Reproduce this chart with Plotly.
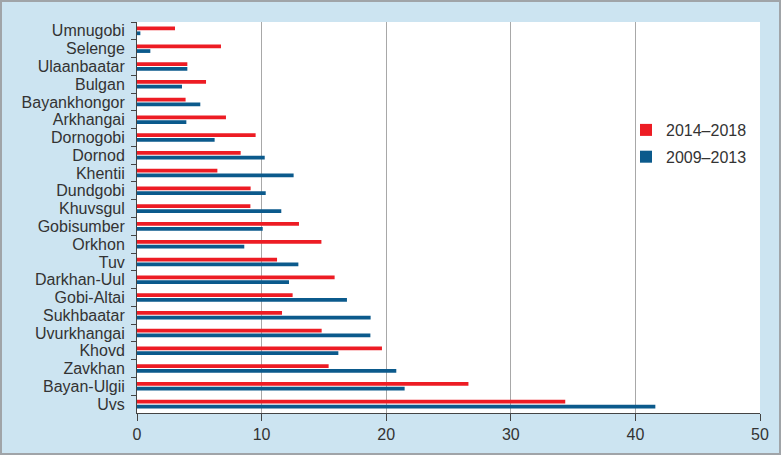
import plotly.graph_objects as go

regions = ["Umnugobi", "Selenge", "Ulaanbaatar", "Bulgan", "Bayankhongor", "Arkhangai",
           "Dornogobi", "Dornod", "Khentii", "Dundgobi", "Khuvsgul", "Gobisumber",
           "Orkhon", "Tuv", "Darkhan-Uul", "Gobi-Altai", "Sukhbaatar", "Uvurkhangai",
           "Khovd", "Zavkhan", "Bayan-Ulgii", "Uvs"]
v_2014_2018 = [3.05, 6.74, 4.04, 5.54, 3.9, 7.14, 9.52, 8.32, 6.45, 9.12, 9.1, 13.0,
               14.8, 11.24, 15.86, 12.49, 11.64, 14.82, 19.66, 15.38, 26.6, 34.37]
v_2009_2013 = [0.27, 1.07, 4.04, 3.61, 5.08, 3.96, 6.23, 10.25, 12.57, 10.33, 11.58, 10.09,
               8.61, 12.95, 12.2, 16.85, 18.75, 18.73, 16.16, 20.81, 21.48, 41.6]
x_ticks = [0, 10, 20, 30, 40, 50]

RED = "#ed1c24"
BLUE = "#0b5a8c"
BG = "#cce4f1"
TXT = "#333333"
FONT = "Liberation Sans, Arial, sans-serif"

fig = go.Figure()
fig.add_trace(go.Bar(y=regions, x=v_2014_2018, orientation="h", name="2014–2018",
                     marker=dict(color=RED, line=dict(width=0)), legendgroup="a"))
fig.add_trace(go.Bar(y=regions, x=v_2009_2013, orientation="h", name="2009–2013",
                     marker=dict(color=BLUE, line=dict(width=0)), legendgroup="b"))

W, H = 781, 455
ml, mr, mt, mb = 137, 21, 22, 42
pw, ph = W - ml - mr, H - mt - mb

fig.update_layout(
    width=W, height=H,
    margin=dict(l=ml, r=mr, t=mt, b=mb, pad=0, autoexpand=False),
    paper_bgcolor=BG, plot_bgcolor="white",
    barmode="group", bargap=0.46, bargroupgap=0.22,
    font=dict(family=FONT, size=16, color=TXT),
    showlegend=True,
    legend=dict(x=(626 - ml) / pw, y=1 - (113 - mt) / ph, xanchor="left", yanchor="top",
                bgcolor="rgba(0,0,0,0)", font=dict(size=16, color=TXT),
                traceorder="grouped", tracegroupgap=3, itemwidth=30),
    xaxis=dict(range=[0, 50], tickvals=x_ticks, showgrid=True, gridcolor="#a8a8a8",
               gridwidth=1, zeroline=False, showline=True, linecolor="#444444",
               linewidth=1, ticks="outside", ticklen=7, tickcolor="#444444",
               tickfont=dict(size=16, color=TXT), fixedrange=True, automargin=False),
    yaxis=dict(type="category", categoryorder="array", categoryarray=regions,
               autorange="reversed", showgrid=False, zeroline=False, showline=True,
               linecolor="#444444", linewidth=1, ticks="outside", ticklen=5,
               tickcolor="#444444", tickson="boundaries", tickmode="linear", tick0=0, dtick=1,
               ticklabelstandoff=8,
               tickfont=dict(size=16, color=TXT), fixedrange=True, automargin=False),
)

# outer border around the whole image
fig.add_shape(type="rect", xref="paper", yref="paper",
              x0=-(ml - 1) / pw, x1=1 + (mr - 1) / pw,
              y0=-(mb - 1) / ph, y1=1 + (mt - 1) / ph,
              line=dict(color="#a0a4a8", width=2), fillcolor="rgba(0,0,0,0)", layer="above")

fig.write_html("out.html", config={"displayModeBar": False},
               post_script="document.body.style.margin='0';document.body.style.overflow='hidden';")
